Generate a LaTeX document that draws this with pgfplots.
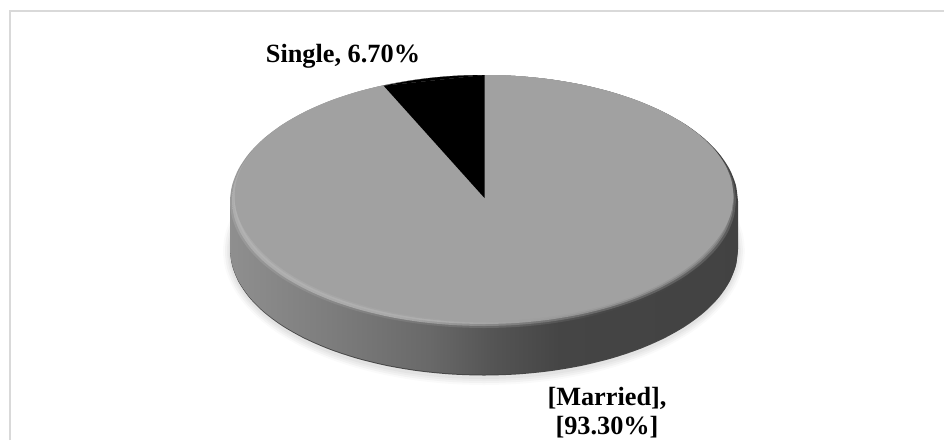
\documentclass[border=0pt]{standalone}
\usepackage{pgfplots}
\usepackage{pgfplotstable}
\usepackage{fontspec}
\setmainfont{Liberation Serif}
\pgfplotsset{compat=1.18}
\tikzset{labeltext/.style={anchor=base,font=\fontsize{26.3pt}{30pt}\selectfont\bfseries}}

% Unit circle outline, one point every 7.5 degrees
\pgfplotstableread{
u v
1.0000 0.0000
0.9914 0.1305
0.9659 0.2588
0.9239 0.3827
0.8660 0.5000
0.7934 0.6088
0.7071 0.7071
0.6088 0.7934
0.5000 0.8660
0.3827 0.9239
0.2588 0.9659
0.1305 0.9914
0.0000 1.0000
-0.1305 0.9914
-0.2588 0.9659
-0.3827 0.9239
-0.5000 0.8660
-0.6088 0.7934
-0.7071 0.7071
-0.7934 0.6088
-0.8660 0.5000
-0.9239 0.3827
-0.9659 0.2588
-0.9914 0.1305
-1.0000 0.0000
-0.9914 -0.1305
-0.9659 -0.2588
-0.9239 -0.3827
-0.8660 -0.5000
-0.7934 -0.6088
-0.7071 -0.7071
-0.6088 -0.7934
-0.5000 -0.8660
-0.3827 -0.9239
-0.2588 -0.9659
-0.1305 -0.9914
0.0000 -1.0000
0.1305 -0.9914
0.2588 -0.9659
0.3827 -0.9239
0.5000 -0.8660
0.6088 -0.7934
0.7071 -0.7071
0.7934 -0.6088
0.8660 -0.5000
0.9239 -0.3827
0.9659 -0.2588
0.9914 -0.1305
1.0000 0.0000
}\unitloop

% Disc outline: centre x, x radius, centre y, y radius, plot options
\newcommand{\disc}[5]{%
  \addplot[draw=none,smooth,#5] table[x expr={#1+#2*\thisrow{u}},y expr={#3+#4*\thisrow{v}}] {\unitloop};}

% Stops sit between 25bp and 75bp, the part that spans the filled shape
\pgfdeclarehorizontalshading{wall}{100bp}{
  color(0bp)=(black!44); color(25bp)=(black!44);
  color(34.8bp)=(black!51); color(44.7bp)=(black!59);
  color(51bp)=(black!67); color(57.5bp)=(black!73);
  color(75bp)=(black!74); color(100bp)=(black!74)}
\pgfdeclarehorizontalshading{bevelA}{100bp}{
  color(0bp)=(black!39); color(25bp)=(black!39);
  color(50bp)=(black!58); color(62bp)=(black!72);
  color(75bp)=(black!74); color(100bp)=(black!74)}
\pgfdeclarehorizontalshading{bevelB}{100bp}{
  color(0bp)=(black!32); color(25bp)=(black!32);
  color(42bp)=(black!34); color(52bp)=(black!49);
  color(62bp)=(black!60); color(75bp)=(black!64); color(100bp)=(black!64)}
\pgfdeclarehorizontalshading{bevelC}{100bp}{
  color(0bp)=(black!30); color(25bp)=(black!30);
  color(45bp)=(black!32); color(55bp)=(black!38);
  color(65bp)=(black!47); color(75bp)=(black!52); color(100bp)=(black!52)}
\pgfdeclarehorizontalshading{bevelD}{100bp}{
  color(0bp)=(black!33); color(25bp)=(black!33);
  color(50bp)=(black!37); color(65bp)=(black!39);
  color(75bp)=(black!44); color(100bp)=(black!44)}

\begin{document}
\begin{tikzpicture}
\useasboundingbox (0,0) rectangle (944pt,440pt);
\begin{axis}[
  scale only axis,
  width=944pt,height=440pt,
  xmin=0,xmax=944,ymin=0,ymax=440,
  y dir=reverse,
  hide axis,
  clip=true,
]
  % Chart frame
  \addplot[draw=black!15,line width=2pt] coordinates {(10,440) (10,11) (944,11)};

  % Soft shadow below the pie
  \disc{484}{261}{251}{134}{fill=black!2}
  \disc{484}{259}{251}{132}{fill=black!5}
  \disc{484}{257}{251}{130}{fill=black!8}
  \disc{484}{255.5}{251}{128}{fill=black!11}

  % Outer wall of the pie
  \disc{484}{254}{249.5}{126}{fill=black!72}
  \disc{484}{254}{248.5}{126}{shade,shading=wall}
  \addplot[draw=none,shade,shading=wall] coordinates {(230,201.5) (738,201.5) (738,248.5) (230,248.5)};

  % Bevel between wall and top face
  \disc{484}{254}{201.5}{126.5}{shade,shading=bevelA}
  \disc{484}{252}{200.5}{125.5}{shade,shading=bevelB}
  \disc{484}{250}{199.5}{124.5}{shade,shading=bevelC}
  \disc{484}{248.5}{198.7}{123.7}{shade,shading=bevelD}

  % Married slice: the whole top face, with the Single slice laid over it
  \disc{484}{247}{198}{123}{fill=black!37}
  \disc{484}{249.5}{196}{121}{fill=black!37}

  % Single slice, 6.70% of the turn
  \addplot[draw=none,fill=black,smooth] coordinates {(484.5,75) (458.6,75.7) (432.9,77.7) (407.8,81.1) (383.6,85.7)};
  \addplot[draw=none,fill=black] coordinates {(484.5,75) (383.6,85.7) (484.5,198)};

  \node[labeltext] at (axis cs:343,62) {Single, 6.70\%};
  \node[labeltext] at (axis cs:607,405.5) {[Married],};
  \node[labeltext] at (axis cs:607,434.5) {[93.30\%]};
\end{axis}
\end{tikzpicture}
\end{document}
